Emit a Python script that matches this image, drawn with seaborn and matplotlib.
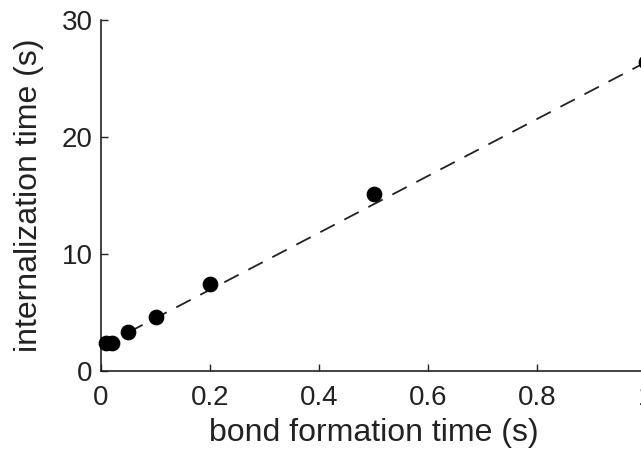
import matplotlib
matplotlib.use("Agg")
import matplotlib.pyplot as plt
import seaborn as sns
import pandas as pd

bond_time = [0.01, 0.02, 0.05, 0.1, 0.2, 0.5, 1.0]
intern_time = [2.4, 2.4, 3.3, 4.6, 7.4, 15.1, 26.4]
fit_x = [0.05, 1.0]
fit_y = [3.3, 26.4]

sns.set_style("white")
plt.rcParams['font.family'] = ['Liberation Sans', 'DejaVu Sans']

fig = plt.figure(figsize=(6.41, 4.5), dpi=100)
ax = fig.add_axes([101/641, 79/450, 545/641, 351/450])

sns.lineplot(x=fit_x, y=fit_y, ax=ax, color="#222222", linestyle=(0, (9, 6)), linewidth=1.3)
sns.scatterplot(x=bond_time, y=intern_time, ax=ax, color="black", s=110, edgecolor="black", clip_on=False, zorder=3)

ax.set_xlim(0, 1)
ax.set_ylim(0, 30)
ax.set_xticks([0, 0.2, 0.4, 0.6, 0.8, 1.0])
ax.set_xticklabels(["0", "0.2", "0.4", "0.6", "0.8", "1"])
ax.set_yticks([0, 10, 20, 30])
ax.set_yticklabels(["0", "10", "20", "30"])
ax.tick_params(direction="in", length=5, width=1, labelsize=20, colors="#222222",
               bottom=True, left=True)
ax.tick_params(axis="x", pad=10)
ax.tick_params(axis="y", pad=6)
for s in ["top", "right"]:
    ax.spines[s].set_visible(False)
for s in ["left", "bottom"]:
    ax.spines[s].set_color("#222222")
    ax.spines[s].set_linewidth(1.2)
ax.set_xlabel("bond formation time (s)", fontsize=23, color="#222222", labelpad=5)
ax.set_ylabel("internalization time (s)", fontsize=23, color="#222222", labelpad=13)

fig.savefig("out.png", dpi=100)
